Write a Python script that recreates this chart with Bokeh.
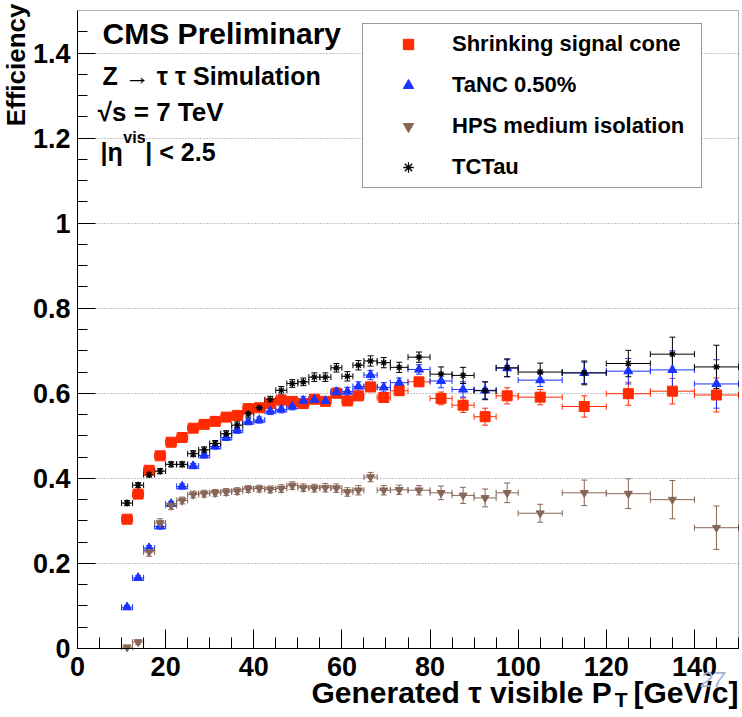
import math
from bokeh.plotting import figure
from bokeh.models import (ColumnDataSource, Whisker, TeeHead, Label, Legend, LegendItem,
                          Range1d, SingleIntervalTicker, NumeralTickFormatter, BoxAnnotation)
from bokeh.embed import file_html
from bokeh.resources import INLINE

# ---- data ----
pt_center = [11.25, 13.75, 16.25, 18.75, 21.25, 23.75, 26.25, 28.75, 31.25, 33.75,
             36.25, 38.75, 41.25, 43.75, 46.25, 48.75, 51.25, 53.75, 56.25, 58.75,
             61.25, 63.75, 66.5, 69.5, 73.0, 77.5, 82.5, 87.5, 92.5, 97.5,
             105.0, 115.0, 125.0, 135.0, 145.0]
pt_halfwidth = [1.25, 1.25, 1.25, 1.25, 1.25, 1.25, 1.25, 1.25, 1.25, 1.25,
                1.25, 1.25, 1.25, 1.25, 1.25, 1.25, 1.25, 1.25, 1.25, 1.25,
                1.25, 1.25, 1.5, 1.5, 2.0, 2.5, 2.5, 2.5, 2.5, 2.5,
                5.0, 5.0, 5.0, 5.0, 5.0]

eff_shrinking = [0.304, 0.363, 0.419, 0.453, 0.485, 0.496, 0.518, 0.527, 0.534, 0.544,
                 0.548, 0.564, 0.566, 0.576, 0.584, 0.581, 0.576, 0.586, 0.581, 0.600,
                 0.582, 0.594, 0.615, 0.590, 0.606, 0.627, 0.588, 0.572, 0.545, 0.594,
                 0.591, 0.569, 0.599, 0.605, 0.596]
err_shrinking = [0.005, 0.005, 0.005, 0.005, 0.005, 0.005, 0.005, 0.005, 0.006, 0.006,
                 0.006, 0.006, 0.007, 0.007, 0.007, 0.008, 0.008, 0.008, 0.009, 0.009,
                 0.010, 0.010, 0.011, 0.011, 0.010, 0.010, 0.015, 0.017, 0.020, 0.019,
                 0.018, 0.025, 0.027, 0.030, 0.040]

eff_tanc = [0.097, 0.166, 0.236, 0.287, 0.340, 0.381, 0.429, 0.454, 0.475, 0.496,
            0.513, 0.533, 0.537, 0.558, 0.562, 0.569, 0.583, 0.585, 0.582, 0.603,
            0.604, 0.616, 0.643, 0.614, 0.625, 0.656, 0.629, 0.609, 0.607, 0.659,
            0.631, 0.648, 0.652, 0.655, 0.622]
err_tanc = [0.004, 0.005, 0.006, 0.006, 0.006, 0.006, 0.006, 0.006, 0.006, 0.007,
            0.007, 0.007, 0.007, 0.008, 0.008, 0.008, 0.009, 0.009, 0.009, 0.010,
            0.010, 0.011, 0.011, 0.011, 0.011, 0.011, 0.016, 0.018, 0.020, 0.020,
            0.015, 0.025, 0.030, 0.045, 0.057]

eff_hps = [0.003, 0.015, 0.227, 0.295, 0.336, 0.348, 0.362, 0.364, 0.366, 0.368,
           0.370, 0.375, 0.376, 0.374, 0.376, 0.383, 0.378, 0.377, 0.378, 0.377,
           0.368, 0.372, 0.403, 0.372, 0.373, 0.372, 0.366, 0.360, 0.354, 0.366,
           0.318, 0.366, 0.364, 0.350, 0.284]
err_hps = [0.003, 0.005, 0.010, 0.010, 0.009, 0.008, 0.008, 0.008, 0.008, 0.008,
           0.008, 0.008, 0.008, 0.008, 0.009, 0.009, 0.009, 0.009, 0.010, 0.010,
           0.010, 0.011, 0.011, 0.011, 0.011, 0.011, 0.016, 0.019, 0.021, 0.023,
           0.021, 0.030, 0.035, 0.045, 0.051]

eff_tctau = [0.342, 0.384, 0.409, 0.417, 0.433, 0.433, 0.458, 0.467, 0.482, 0.505,
             0.525, 0.552, 0.566, 0.585, 0.607, 0.623, 0.627, 0.638, 0.638, 0.660,
             0.640, 0.666, 0.676, 0.672, 0.661, 0.685, 0.645, 0.642, 0.606, 0.660,
             0.650, 0.648, 0.670, 0.692, 0.662]
err_tctau = [0.006, 0.006, 0.006, 0.006, 0.006, 0.006, 0.007, 0.007, 0.007, 0.007,
             0.008, 0.008, 0.008, 0.008, 0.009, 0.009, 0.009, 0.010, 0.010, 0.010,
             0.011, 0.011, 0.012, 0.012, 0.012, 0.012, 0.017, 0.019, 0.021, 0.021,
             0.021, 0.028, 0.031, 0.040, 0.051]

series_labels = ["Shrinking signal cone", "TaNC 0.50%", "HPS medium isolation", "TCTau"]

X_MIN, X_MAX = 0, 150
Y_MIN, Y_MAX = 0, 1.5

FONT = "Liberation Sans"

# The frame covers the whole canvas; the ROOT-style axes sit at x=0 / y=0 inside it,
# so that the titles placed around the axes are not clipped away.
W, H = 740, 715
px_per_x = 661 / (X_MAX - X_MIN)
px_per_y = 638 / (Y_MAX - Y_MIN)
x_lo = X_MIN - 77 / px_per_x
x_hi = X_MAX + (W - 738) / px_per_x
y_hi = Y_MAX + 10 / px_per_y
y_lo = Y_MIN - (H - 648) / px_per_y

p = figure(width=W, height=H, x_range=Range1d(x_lo, x_hi), y_range=Range1d(y_lo, y_hi),
           output_backend="svg", toolbar_location=None,
           min_border=0, min_border_left=0, min_border_right=0,
           min_border_top=0, min_border_bottom=0)
p.background_fill_color = "white"
p.border_fill_color = "white"
p.outline_line_color = None

# axes
p.xaxis.ticker = SingleIntervalTicker(interval=20, num_minor_ticks=4)
p.yaxis.ticker = SingleIntervalTicker(interval=0.2, num_minor_ticks=4)
p.yaxis.formatter = NumeralTickFormatter(format="0.[0]")
p.xaxis.fixed_location = Y_MIN
p.yaxis.fixed_location = X_MIN
p.xaxis.bounds = (X_MIN, X_MAX)
p.yaxis.bounds = (Y_MIN, Y_MAX)
for ax in (p.xaxis[0], p.yaxis[0]):
    ax.axis_line_color = "black"
    ax.major_tick_line_color = "black"
    ax.minor_tick_line_color = "black"
    ax.major_tick_out = 0
    ax.minor_tick_out = 0
    ax.major_label_text_font = FONT
    ax.major_label_text_font_style = "bold"
    ax.major_label_text_font_size = "27px"
    ax.major_label_text_color = "black"
p.xaxis.major_tick_in = 19
p.xaxis.minor_tick_in = 11
p.yaxis.major_tick_in = 18
p.yaxis.minor_tick_in = 10
p.xaxis.major_label_standoff = 8
p.yaxis.major_label_standoff = 7

p.xgrid.grid_line_color = None
p.ygrid.grid_line_color = "#888888"
p.ygrid.grid_line_dash = "1 2"
p.ygrid.grid_line_width = 1
p.ygrid.cross_bounds = (X_MIN, X_MAX)

# frame box
p.add_layout(BoxAnnotation(left=X_MIN, right=X_MAX, bottom=Y_MIN, top=Y_MAX,
                           fill_color=None, fill_alpha=0, line_color="black",
                           line_width=1, level="overlay"))

# series
specs = [
    (eff_shrinking, err_shrinking, "#ff2a00", "square", 10, 0),
    (eff_tanc, err_tanc, "#1a33ff", "triangle", 9, 0),
    (eff_hps, err_hps, "#876657", "inverted_triangle", 8, 0),
    (eff_tctau, err_tctau, "#000000", "asterisk", 7, 1.3),
]
renderers = []
for eff, err, col, marker, size, lw in specs:
    src = ColumnDataSource(dict(
        x=pt_center, y=eff,
        xl=[c - h for c, h in zip(pt_center, pt_halfwidth)],
        xu=[c + h for c, h in zip(pt_center, pt_halfwidth)],
        yl=[v - e for v, e in zip(eff, err)],
        yu=[v + e for v, e in zip(eff, err)],
    ))
    p.add_layout(Whisker(source=src, base="x", lower="yl", upper="yu", dimension="height",
                         line_color=col, line_width=1,
                         upper_head=TeeHead(size=6, line_color=col, line_width=1),
                         lower_head=TeeHead(size=6, line_color=col, line_width=1)))
    p.add_layout(Whisker(source=src, base="y", lower="xl", upper="xu", dimension="width",
                         line_color=col, line_width=1,
                         upper_head=TeeHead(size=6, line_color=col, line_width=1),
                         lower_head=TeeHead(size=6, line_color=col, line_width=1)))
    kw = dict(line_color=col, fill_color=col)
    if marker == "asterisk":
        kw["line_width"] = lw
    r = p.scatter("x", "y", source=src, marker=marker, size=size, **kw)
    renderers.append(r)

legend = Legend(items=[LegendItem(label=l, renderers=[r]) for l, r in zip(series_labels, renderers)],
                location=(362, H - 188), orientation="vertical",
                label_text_font=FONT, label_text_font_style="bold", label_text_font_size="22px",
                label_text_color="black",
                glyph_width=76, glyph_height=26, label_height=26, label_width=242,
                label_standoff=6, spacing=15, padding=7, margin=0,
                border_line_color="#333333", border_line_width=1,
                background_fill_color="white", background_fill_alpha=1.0)
p.add_layout(legend)


def lab(text, x, y, size, **kw):
    opts = dict(text_font=FONT, text_font_style="bold", text_font_size=size,
                text_color="black", text_baseline="alphabetic")
    opts.update(kw)
    p.add_layout(Label(x=x, y=y, text=text, **opts))


# header texts
lab("CMS Preliminary", 5.7, 1.445, "30px")
lab("Z \u2192 \u03c4 \u03c4 Simulation", 5.7, 1.346, "25px")
lab("\u221as = 7 TeV", 4.6, 1.261, "26px")
lab("|\u03b7", 5.2, 1.167, "25px")
lab("vis", 10.4, 1.202, "16px")
lab("| < 2.5", 15.4, 1.167, "25px")

# axis titles
lab("Generated \u03c4 visible P", 53.1, -0.104, "30px")
lab("T", 121.9, -0.120, "21px")
lab("[GeV/c]", 150.0, -0.104, "30px", text_align="right")
lab("Efficiency", -17.3, 1.5165, "26px", angle=math.pi / 2, text_align="right",
    text_baseline="top")

# page-number artifact visible in the reference
lab("27", 141.4, -0.072, "22px", text_font_style="italic", text_color="#9fb2d4")

open("out.html", "w").write(file_html(p, INLINE))
